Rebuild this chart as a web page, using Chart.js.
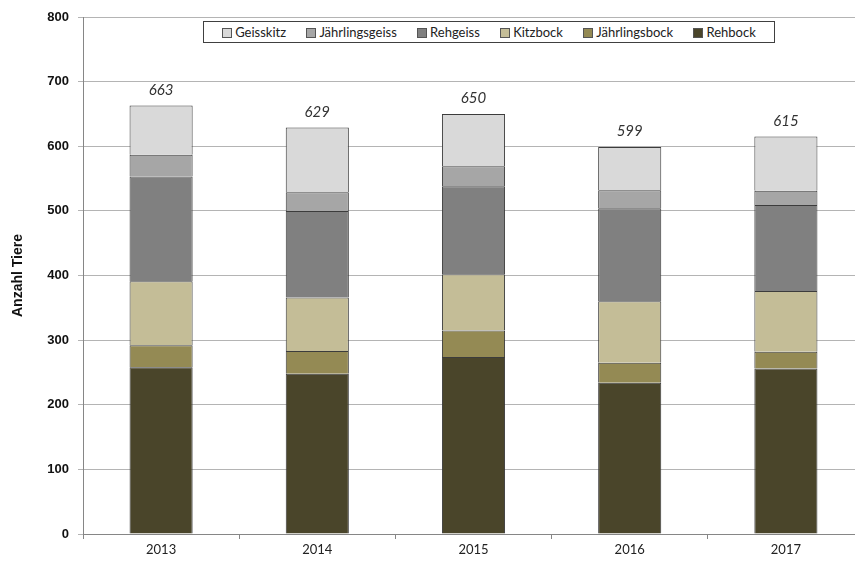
<!DOCTYPE html>
<html>
<head>
<meta charset="utf-8">
<script src="https://cdn.jsdelivr.net/npm/chart.js@4"></script>
<style>
  body { margin: 0; background: #fff; }
  #wrap { position: relative; width: 855px; height: 561px; overflow: hidden; }
  #legend {
    position: absolute; left: 203px; top: 21px; width: 572px; height: 22px;
    border: 1px solid #404040; background: #fff;
    font: 13px Lato, "Open Sans", sans-serif; color: #222;
    display: flex; align-items: center; justify-content: space-around; box-sizing: border-box;
    padding: 0 8px;
  }
  #legend span.box {
    display: inline-block; width: 8px; height: 8px; border: 1px solid #555;
    margin-right: 3px; vertical-align: -1px;
  }
</style>
</head>
<body>
<div id="wrap">
  <canvas id="myChart" width="870" height="561"></canvas>
  <div id="legend"></div>
</div>
<script>
const years = ['2013', '2014', '2015', '2016', '2017'];

// stacked from bottom to top
const rehbock        = [258, 248, 274, 234, 256];
const jaehrlingsbock = [34, 35, 41, 31, 26];
const kitzbock       = [99, 83, 87, 95, 94];
const rehgeiss       = [162, 134, 136, 144, 133];
const jaehrlingsgeiss = [34, 29, 31, 28, 22];
const geisskitz      = [76, 100, 81, 67, 84];

const yTicks = [0, 100, 200, 300, 400, 500, 600, 700, 800];

const series = [
  { label: 'Rehbock', data: rehbock, color: '#4a452a' },
  { label: 'Jährlingsbock', data: jaehrlingsbock, color: '#948a54' },
  { label: 'Kitzbock', data: kitzbock, color: '#c4bd97' },
  { label: 'Rehgeiss', data: rehgeiss, color: '#808080' },
  { label: 'Jährlingsgeiss', data: jaehrlingsgeiss, color: '#a6a6a6' },
  { label: 'Geisskitz', data: geisskitz, color: '#d9d9d9' }
];

// legend box (top-down order like the original)
const legend = document.getElementById('legend');
series.slice().reverse().forEach(s => {
  const item = document.createElement('div');
  item.innerHTML = '<span class="box" style="background:' + s.color + '"></span>' + s.label;
  legend.appendChild(item);
});

const totalsPlugin = {
  id: 'totals',
  afterDatasetsDraw(chart) {
    const c = chart.ctx;
    const y = chart.scales.y;
    const meta = chart.getDatasetMeta(0);
    c.save();
    c.font = 'italic 15px Lato, "Open Sans", sans-serif';
    c.fillStyle = '#333';
    c.textAlign = 'center';
    c.textBaseline = 'bottom';
    years.forEach((yr, i) => {
      const total = series.reduce((sum, s) => sum + s.data[i], 0);
      c.fillText(total, meta.data[i].x, y.getPixelForValue(total) - 8);
    });
    c.restore();
  }
};

const ctx = document.getElementById('myChart').getContext('2d');
new Chart(ctx, {
  type: 'bar',
  data: {
    labels: years,
    datasets: series.map(s => ({
      label: s.label,
      data: s.data,
      backgroundColor: s.color,
      borderColor: '#3c3c3c',
      borderWidth: 1,
      categoryPercentage: 1,
      barPercentage: 0.404
    }))
  },
  options: {
    responsive: false,
    animation: false,
    layout: { padding: { top: 17, right: 6, left: 10, bottom: 0 } },
    plugins: {
      legend: { display: false },
      tooltip: { enabled: false }
    },
    scales: {
      x: {
        stacked: true,
        afterFit: (scale) => { scale.height = 27; },
        grid: { display: true, drawOnChartArea: false, offset: true, tickLength: 5, color: '#868686' },
        border: { color: '#868686' },
        ticks: { color: '#222', font: { family: 'Lato, "Open Sans", sans-serif', size: 13 }, padding: 3 }
      },
      y: {
        stacked: true,
        min: 0,
        max: 800,
        afterFit: (scale) => { scale.width = 73; },
        afterBuildTicks: (scale) => { scale.ticks = yTicks.map(v => ({ value: v })); },
        grid: { color: '#b4b4b4', tickLength: 5 },
        border: { color: '#868686' },
        title: {
          display: true,
          text: 'Anzahl Tiere',
          color: '#111',
          font: { family: '"Liberation Sans", Arial, sans-serif', size: 14, weight: 'bold' },
          padding: { top: 0, bottom: 0 }
        },
        ticks: {
          color: '#111',
          font: { family: '"Liberation Sans", Arial, sans-serif', size: 13, weight: 'bold' },
          padding: 9
        }
      }
    }
  },
  plugins: [totalsPlugin]
});
</script>
</body>
</html>
